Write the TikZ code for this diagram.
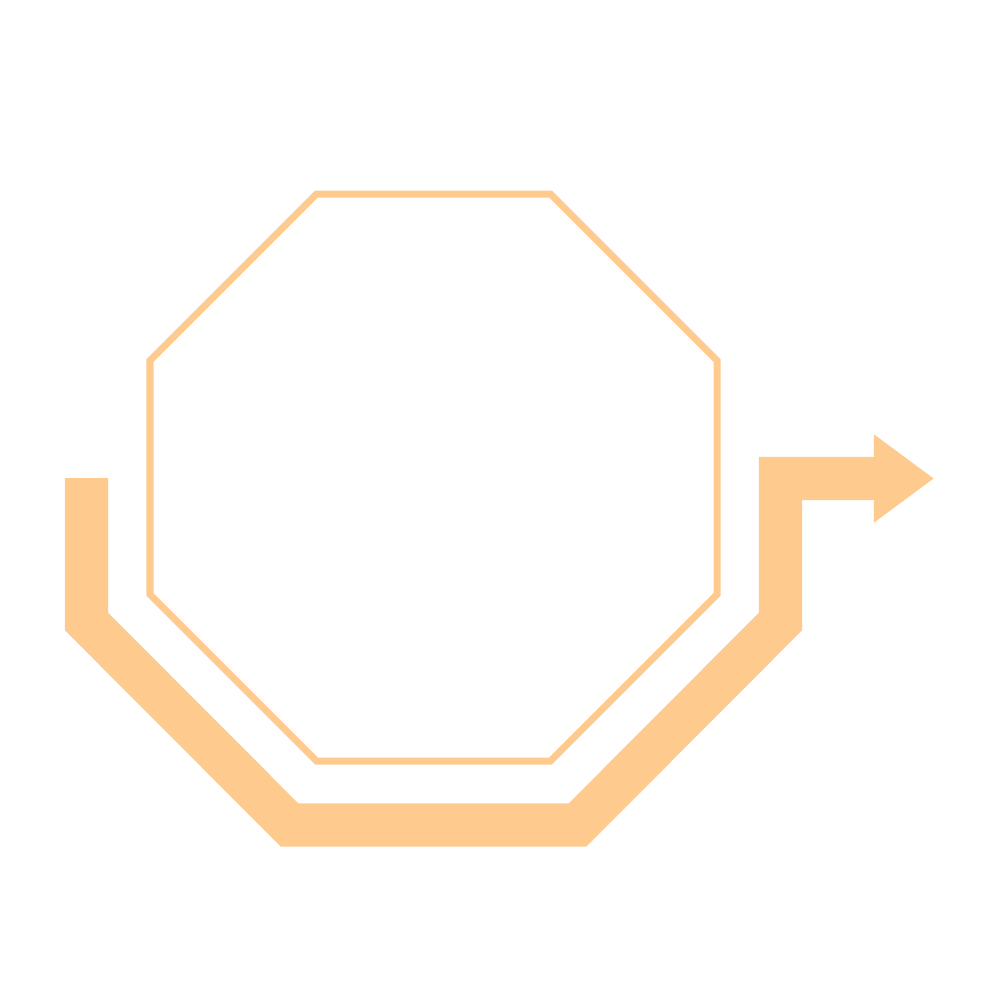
\documentclass[tikz,border=0pt]{standalone}
\usetikzlibrary{arrows.meta}
\definecolor{peach}{RGB}{254,202,142}
\begin{document}
\begin{tikzpicture}[x=0.01cm,y=-0.01cm,
		frame line/.style={draw=peach,line width=0.07cm,line join=miter},
		flow band/.style={draw=peach,line width=0.43cm,line join=miter,
			-{Triangle[length=0.6cm,width=0.84cm]}}]
		
		\useasboundingbox (0,0) rectangle (1000,1000);
		
		% corners of the octagon
		\coordinate (o1) at (316.5,194);
		\coordinate (o2) at (550.5,194);
		\coordinate (o3) at (717,360.5);
		\coordinate (o4) at (717,594.5);
		\coordinate (o5) at (550.5,761);
		\coordinate (o6) at (316.5,761);
		\coordinate (o7) at (150,594.5);
		\coordinate (o8) at (150,360.5);
		\draw[frame line] (o1) -- (o2) -- (o3) -- (o4) -- (o5) -- (o6) -- (o7) -- (o8) -- cycle;
		
		% band around the bottom, ending in the arrow
		\coordinate (start) at (86.5,478);
		\coordinate (b1) at (86.5,621.5);
		\coordinate (b2) at (289.5,825);
		\coordinate (b3) at (577.5,825);
		\coordinate (b4) at (780.5,621.5);
		\coordinate (b5) at (780.5,478.5);
		\coordinate (tip) at (934,478.5);
		\draw[flow band] (start) -- (b1) -- (b2) -- (b3) -- (b4) -- (b5) -- (tip);
		\end{tikzpicture}
\end{document}
